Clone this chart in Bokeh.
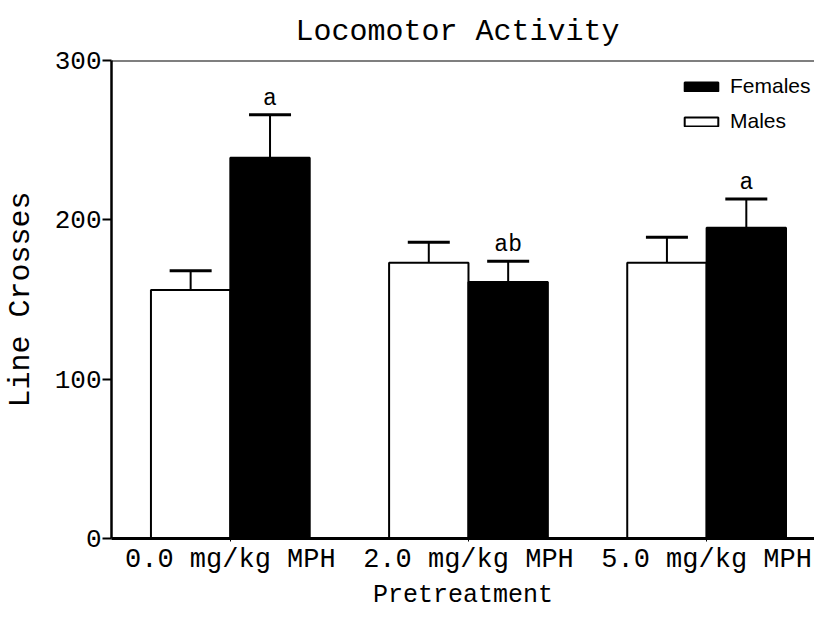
import numpy as np
from bokeh.plotting import figure
from bokeh.models import (ColumnDataSource, Whisker, TeeHead, Span, Legend, LegendItem,
                          FixedTicker, Range1d, LabelSet)
from bokeh.core.properties import value
from bokeh.embed import file_html
from bokeh.resources import INLINE

# ---- data ----
groups = ["0.0 mg/kg MPH", "2.0 mg/kg MPH", "5.0 mg/kg MPH"]
males = [156, 173, 173]
males_sem = [12, 13, 16]
females = [239, 161, 195]
females_sem = [27, 13, 18]
annotations = ["a", "ab", "a"]
y_ticks = [0, 100, 200, 300]

idx = np.arange(len(groups))
bw = 1 / 3

src_m = ColumnDataSource(dict(x=idx - bw / 2, top=males,
                              upper=np.array(males) + np.array(males_sem)))
src_f = ColumnDataSource(dict(x=idx + bw / 2, top=females,
                              upper=np.array(females) + np.array(females_sem),
                              lab=annotations))

MONO = "Liberation Mono"
SANS = "Liberation Sans"

p = figure(width=814, height=612, output_backend="svg", toolbar_location=None,
           x_range=Range1d(-0.499, 2.453), y_range=Range1d(0, 300),
           min_border_left=104, min_border_right=0, min_border_top=60, min_border_bottom=0,
           title="Locomotor Activity")
p.outline_line_color = None
p.xgrid.visible = False
p.ygrid.visible = False
p.background_fill_color = "white"
p.border_fill_color = "white"

p.title.text_font = MONO
p.title.text_font_size = "30px"
p.title.text_font_style = "normal"
p.title.text_color = "black"
p.title.align = "left"
p.title.offset = 184
p.title.standoff = 23

# bars
rm = p.vbar(x="x", top="top", width=bw, bottom=0, source=src_m,
            fill_color="white", line_color="black", line_width=2)
rf = p.vbar(x="x", top="top", width=bw, bottom=0, source=src_f,
            fill_color="black", line_color="black", line_width=2)

# error bars (upper only)
for s in (src_m, src_f):
    p.add_layout(Whisker(source=s, base="x", upper="upper", lower="top",
                         upper_head=TeeHead(size=42, line_width=3, line_color="black"),
                         lower_head=None, line_width=2, line_color="black"))

# significance letters
p.add_layout(LabelSet(x="x", y="upper", text="lab", source=src_f, y_offset=10,
                      text_align="center", text_baseline="alphabetic",
                      text_font=value(MONO), text_font_size="23px", text_color="black"))

# top frame line
p.add_layout(Span(location=300, dimension="width", line_color="black", line_width=2))

# axes
p.yaxis.ticker = FixedTicker(ticks=y_ticks)
p.yaxis.axis_label = "Line Crosses"
p.yaxis.axis_label_text_font = MONO
p.yaxis.axis_label_text_font_size = "30px"
p.yaxis.axis_label_text_font_style = "normal"
p.yaxis.axis_label_standoff = 14
p.yaxis.major_label_text_font = MONO
p.yaxis.major_label_text_font_size = "26px"
p.yaxis.major_label_standoff = 1
p.yaxis.major_tick_out = 9
p.yaxis.major_tick_in = 0
p.yaxis.major_tick_line_width = 2
p.yaxis.minor_tick_line_color = None
p.yaxis.axis_line_width = 2.5

p.xaxis.ticker = FixedTicker(ticks=list(idx))
p.xaxis.major_label_overrides = {int(i): g for i, g in zip(idx, groups)}
p.xaxis.axis_label = "Pretreatment"
p.xaxis.axis_label_text_font = MONO
p.xaxis.axis_label_text_font_size = "25px"
p.xaxis.axis_label_text_font_style = "normal"
p.xaxis.axis_label_standoff = 3
p.xaxis.major_label_text_font = MONO
p.xaxis.major_label_text_font_size = "27px"
p.xaxis.major_label_standoff = 3
p.xaxis.major_tick_out = 3
p.xaxis.major_tick_in = 0
p.xaxis.major_tick_line_width = 1
p.xaxis.minor_tick_line_color = None
p.xaxis.axis_line_width = 3

for ax in (p.xaxis, p.yaxis):
    ax.axis_label_text_color = "black"
    ax.major_label_text_color = "black"
    ax.axis_line_color = "black"
    ax.major_tick_line_color = "black"

legend = Legend(items=[LegendItem(label="Females", renderers=[rf]),
                       LegendItem(label="Males", renderers=[rm])],
                location=(569, 405), padding=0, margin=0, spacing=11,
                glyph_width=42, glyph_height=11, label_standoff=8,
                label_text_font=SANS, label_text_font_size="21px",
                label_text_color="black", label_height=18,
                border_line_color=None, background_fill_color=None)
p.add_layout(legend, "center")

open("out.html", "w").write(file_html(p, INLINE))
